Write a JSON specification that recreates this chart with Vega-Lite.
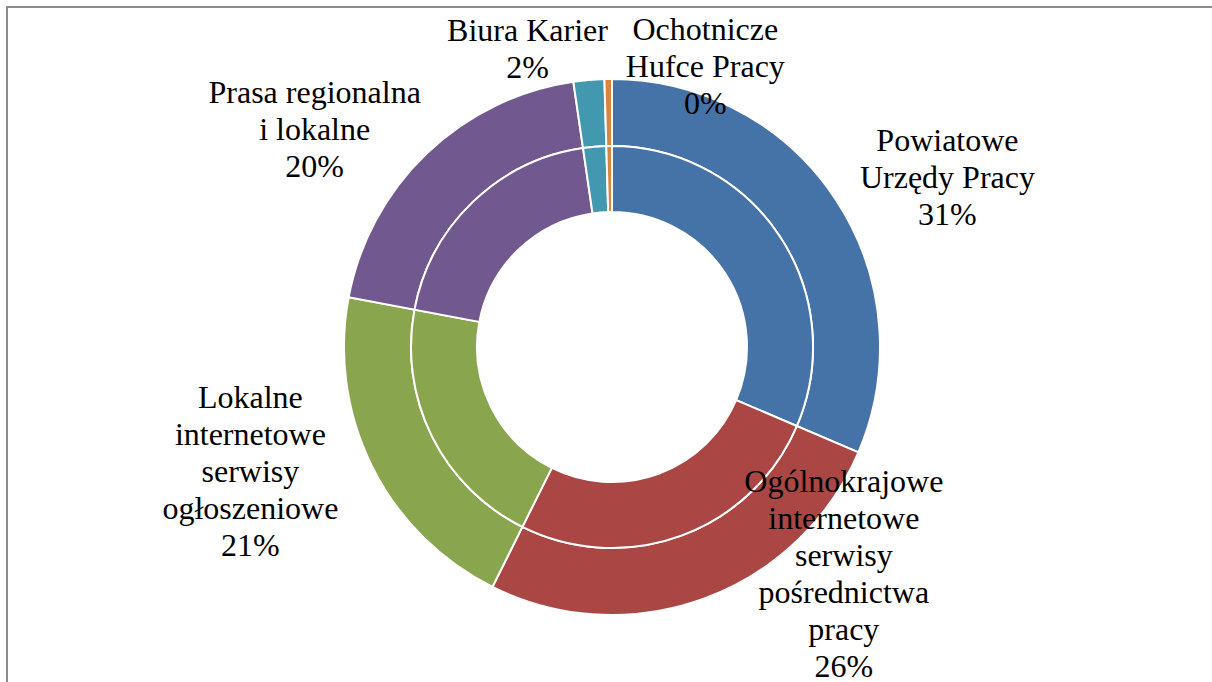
{
  "$schema": "https://vega.github.io/schema/vega-lite/v6.json",
  "width": 1210,
  "height": 680,
  "autosize": "none",
  "padding": {"left": 7, "top": 7, "right": 0, "bottom": 0},
  "background": "white",
  "view": {"stroke": "#8c8c8c", "strokeWidth": 2, "fill": "white"},
  "config": {"view": {"stroke": "#8c8c8c", "strokeWidth": 2}, "font": "Liberation Serif"},
  "data": {"values": [
    {"ring": "outer", "idx": 1, "cat": "Powiatowe Urzędy Pracy", "value": 31.4, "label": "Powiatowe\nUrzędy Pracy\n31%"},
    {"ring": "outer", "idx": 2, "cat": "Ogólnokrajowe internetowe serwisy pośrednictwa pracy", "value": 25.9, "label": "Ogólnokrajowe\ninternetowe\nserwisy\npośrednictwa\npracy\n26%"},
    {"ring": "outer", "idx": 3, "cat": "Lokalne internetowe serwisy ogłoszeniowe", "value": 20.6, "label": "Lokalne\ninternetowe\nserwisy\nogłoszeniowe\n21%"},
    {"ring": "outer", "idx": 4, "cat": "Prasa regionalna i lokalne", "value": 19.7, "label": "Prasa regionalna\ni lokalne\n20%"},
    {"ring": "outer", "idx": 5, "cat": "Biura Karier", "value": 1.85, "label": "Biura Karier\n2%"},
    {"ring": "outer", "idx": 6, "cat": "Ochotnicze Hufce Pracy", "value": 0.45, "label": "Ochotnicze\nHufce Pracy\n0%"},
    {"ring": "inner", "idx": 1, "cat": "Powiatowe Urzędy Pracy", "value": 31.4, "label": ""},
    {"ring": "inner", "idx": 2, "cat": "Ogólnokrajowe internetowe serwisy pośrednictwa pracy", "value": 25.9, "label": ""},
    {"ring": "inner", "idx": 3, "cat": "Lokalne internetowe serwisy ogłoszeniowe", "value": 20.6, "label": ""},
    {"ring": "inner", "idx": 4, "cat": "Prasa regionalna i lokalne", "value": 19.7, "label": ""},
    {"ring": "inner", "idx": 5, "cat": "Biura Karier", "value": 1.85, "label": ""},
    {"ring": "inner", "idx": 6, "cat": "Ochotnicze Hufce Pracy", "value": 0.45, "label": ""}
  ]},
  "encoding": {
    "theta": {"field": "value", "type": "quantitative", "stack": true},
    "order": {"field": "idx", "type": "quantitative"},
    "color": {
      "field": "cat", "type": "nominal", "legend": null,
      "scale": {
        "domain": ["Powiatowe Urzędy Pracy", "Ogólnokrajowe internetowe serwisy pośrednictwa pracy", "Lokalne internetowe serwisy ogłoszeniowe", "Prasa regionalna i lokalne", "Biura Karier", "Ochotnicze Hufce Pracy"],
        "range": ["#4572A7", "#AA4643", "#89A54E", "#71588F", "#4198AF", "#DB843D"]
      }
    }
  },
  "layer": [
    {
      "transform": [{"filter": "datum.ring === 'outer'"}],
      "mark": {"type": "arc", "radius": 268, "radius2": 201, "stroke": "white", "strokeWidth": 2}
    },
    {
      "transform": [{"filter": "datum.ring === 'inner'"}],
      "mark": {"type": "arc", "radius": 201, "radius2": 135, "stroke": "white", "strokeWidth": 2}
    },
    {
      "transform": [{"filter": "datum.ring === 'outer'"}],
      "mark": {
        "type": "text", "radius": 330, "font": "Liberation Serif", "fontSize": 32,
        "lineHeight": 37, "lineBreak": "\n", "align": "center", "baseline": "middle",
        "dx": {"expr": "datum.idx==1?60:datum.idx==2?118:datum.idx==3?-66:datum.idx==4?-69:datum.idx==5?-56:98"},
        "dy": {"expr": "datum.idx==1?-24:datum.idx==2?-175:datum.idx==3?-96:datum.idx==4?-16:datum.idx==5?13:13"}
      },
      "encoding": {
        "text": {"field": "label", "type": "nominal"},
        "color": {"value": "black"}
      }
    }
  ]
}
